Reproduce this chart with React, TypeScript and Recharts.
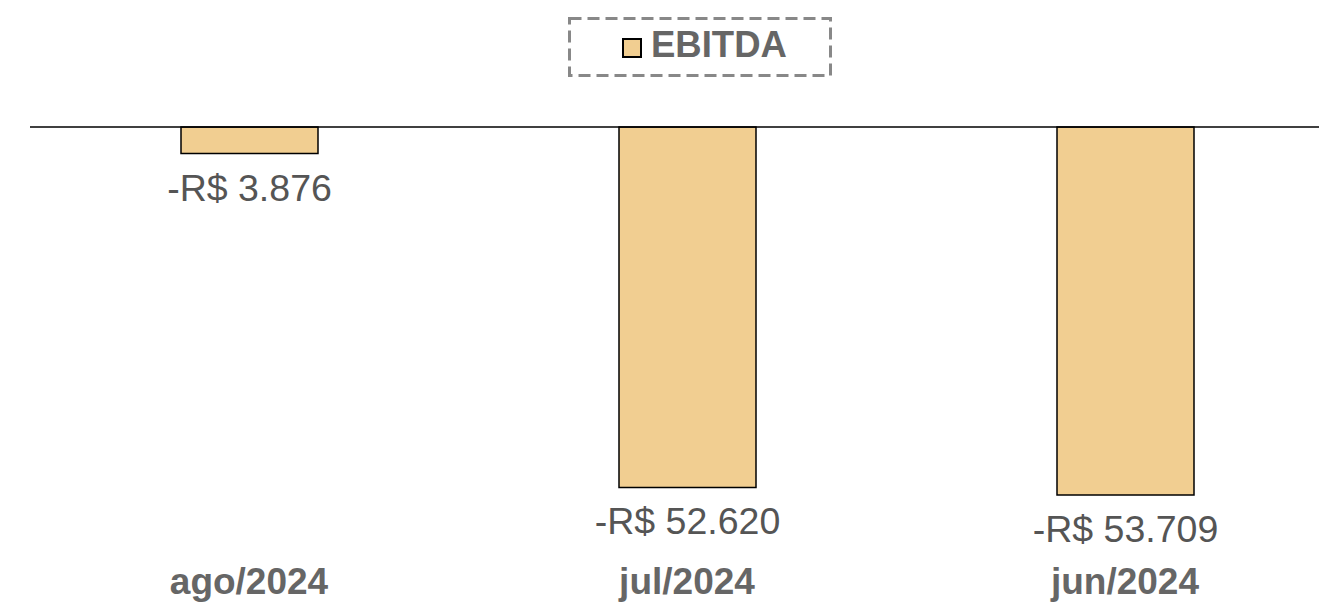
import React from 'react';
import { BarChart, Bar, XAxis, YAxis, ReferenceLine, Legend, LabelList } from 'recharts';

const categories = ['ago/2024', 'jul/2024', 'jun/2024'];
const ebitda = [-3876, -52620, -53709];
const seriesName = 'EBITDA';

const data = categories.map((c, i) => ({ month: c, ebitda: ebitda[i] }));

const FONT = '"Liberation Sans", Arial, sans-serif';

const fmt = (v: number) => {
  const abs = Math.abs(v);
  const s = String(Math.round(abs)).replace(/\B(?=(\d{3})+(?!\d))/g, '.');
  return (v < 0 ? '-' : '') + 'R$ ' + s;
};

const ValueLabel = (props: any) => {
  const { x, y, width, height, value } = props;
  const bottom = Math.max(y, y + height);
  return (
    <text
      x={x + width / 2}
      y={bottom + 34}
      textAnchor="middle"
      dominantBaseline="central"
      fill="#555"
      fontSize={37.5}
      fontFamily={FONT}
    >
      {fmt(value)}
    </text>
  );
};

const Tick = (props: any) => {
  const { x, y, payload } = props;
  return (
    <text x={x} y={y} dy={47.5} textAnchor="middle" fill="#666" fontSize={37} fontWeight="bold" fontFamily={FONT}>
      {payload.value}
    </text>
  );
};

const LegendContent = (props: any) => {
  const name = props.payload && props.payload[0] ? props.payload[0].value : seriesName;
  return (
    <svg width={1319} height={90} style={{ display: 'block' }}>
      <rect x={569.5} y={18.5} width={261} height={57} fill="none" stroke="#888" strokeWidth={3} strokeDasharray="12 6" />
      <rect x={623} y={39} width={18} height={18} fill="#F1CE91" stroke="#000" strokeWidth={2} />
      <text x={651} y={57} fill="#666" fontSize={36.5} fontWeight="bold" fontFamily={FONT}>
        {name}
      </text>
    </svg>
  );
};

export default function App() {
  return (
    <div style={{ position: 'fixed', top: 0, left: 0, width: 1319, height: 602, overflow: 'hidden', background: '#fff' }}>
      <BarChart
        width={1360}
        height={602}
        data={data}
        margin={{ top: 127, right: 16, bottom: 0, left: 30 }}
        barSize={137}
      >
        <Legend
          verticalAlign="top"
          content={<LegendContent />}
          wrapperStyle={{ top: 0, left: 0, width: 1319, height: 0 }}
        />
        <XAxis dataKey="month" axisLine={false} tickLine={false} height={64} tick={<Tick />} interval={0} />
        <YAxis hide domain={[-60000, 0]} />
        <Bar dataKey="ebitda" name={seriesName} fill="#F1CE91" stroke="#000" strokeWidth={1.5} isAnimationActive={false}>
          <LabelList dataKey="ebitda" content={<ValueLabel />} />
        </Bar>
        <ReferenceLine y={0} stroke="#000" strokeWidth={1.5} ifOverflow="extendDomain" />
      </BarChart>
    </div>
  );
}
